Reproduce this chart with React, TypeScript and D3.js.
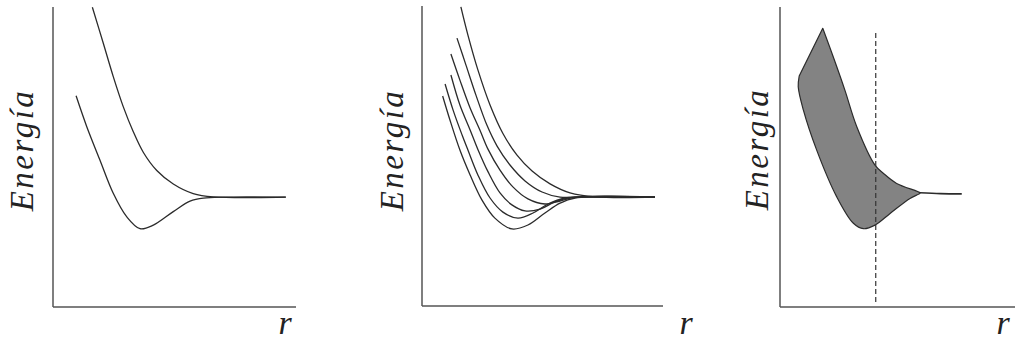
import React from 'react'
import * as d3 from 'd3'

type Pt = [number, number]

// panel 1: repulsive state and bonding state (r, energy in arbitrary units)
const repulsiveCurve: Pt[] = [
  [1.62, 9.99], [2.07, 8.79], [2.48, 7.68], [2.89, 6.68], [3.3, 5.85], [3.72, 5.15],
  [4.27, 4.55], [4.95, 4.1], [5.77, 3.78], [6.6, 3.67], [9.58, 3.66],
]
const bondingCurve: Pt[] = [
  [0.95, 7.04], [1.39, 6.01], [1.93, 4.9], [2.48, 3.79], [3.03, 3.01], [3.58, 2.61],
  [4.13, 2.73], [4.95, 3.18], [5.64, 3.53], [6.19, 3.63], [9.58, 3.66],
]

// panel 2: family of states
const family1: Pt[] = [
  [1.6, 9.97], [1.89, 9.03], [2.3, 7.87], [2.8, 6.7], [3.33, 5.75], [3.91, 5.03],
  [4.53, 4.5], [5.27, 4.07], [6.09, 3.77], [7.12, 3.64], [9.59, 3.63],
]
const family2: Pt[] = [
  [1.44, 8.93], [1.81, 8.03], [2.22, 7.03], [2.67, 6.03], [3.09, 5.33], [3.62, 4.7],
  [4.24, 4.17], [4.94, 3.8], [5.68, 3.63], [6.5, 3.63], [9.59, 3.63],
]
const family3: Pt[] = [
  [1.19, 8.4], [1.56, 7.53], [1.98, 6.6], [2.39, 5.85], [2.72, 5.22], [3.21, 4.53],
  [3.74, 3.97], [4.36, 3.57], [5.06, 3.4], [5.68, 3.5], [6.3, 3.62], [9.59, 3.63],
]
const family4: Pt[] = [
  [1.19, 7.7], [1.56, 6.7], [1.98, 5.87], [2.3, 5.22], [2.72, 4.47], [3.21, 3.77],
  [3.7, 3.37], [4.24, 3.17], [4.86, 3.23], [5.47, 3.47], [6.17, 3.62], [9.59, 3.63],
]
const family5: Pt[] = [
  [0.95, 7.4], [1.28, 6.53], [1.65, 5.7], [1.89, 5.2], [2.3, 4.37], [2.8, 3.6],
  [3.33, 3.13], [3.95, 2.93], [4.57, 3.1], [5.19, 3.4], [5.88, 3.6], [6.5, 3.63], [9.59, 3.63],
]
const family6: Pt[] = [
  [0.85, 7.0], [1.15, 6.2], [1.56, 5.2], [1.98, 4.37], [2.47, 3.53], [3.0, 2.93],
  [3.7, 2.57], [4.36, 2.7], [5.06, 3.1], [5.68, 3.43], [6.3, 3.6], [9.59, 3.63],
]
const familyCurves = [family1, family2, family3, family4, family5, family6]

// panel 3: shaded band between the two limits, with a cut at fixed r
const bandUpper: Pt[] = [
  [1.76, 9.29], [2.19, 8.34], [2.67, 7.23], [3.16, 6.01], [3.91, 4.73], [4.25, 4.46],
  [4.8, 4.12], [5.76, 3.81],
]
const bandTail: Pt[] = [[5.76, 3.81], [6.6, 3.78], [7.48, 3.77]]
const bandLower: Pt[] = [
  [0.79, 7.7], [0.75, 7.34], [0.96, 6.57], [1.51, 5.23], [2.33, 3.68], [3.02, 2.79],
  [3.43, 2.61], [3.91, 2.73], [4.53, 3.12], [5.35, 3.62], [5.76, 3.79],
]
const cutR = 3.94
const cutE: [number, number] = [0.17, 9.17]

const yLabel = 'Energía'
const xLabel = 'r'

const x = d3.scaleLinear().domain([0, 10]).range([0, 243])
const y = d3.scaleLinear().domain([0, 10]).range([300, 0])

const line = d3
  .line<Pt>()
  .x(d => x(d[0]))
  .y(d => y(d[1]))
  .curve(d3.curveCatmullRom.alpha(0.5))

const panels = [
  { ox: 53, oy: 307, axisLen: 243, yl: [-20, -157], xl: [232, 27] },
  { ox: 422, oy: 306, axisLen: 241, yl: [-19, -156], xl: [264, 28] },
  { ox: 780, oy: 307, axisLen: 250, yl: [-12, -158], xl: [223, 27] },
]

const serif = 'Liberation Serif, Times New Roman, serif'
const curveStyle = { fill: 'none', stroke: '#2b2b2b', strokeWidth: 1.3 }

const Frame = ({ p }: { p: (typeof panels)[number] }) => (
  <g>
    <line x1={0} y1={0} x2={0} y2={-300} stroke="#555" strokeWidth={1.5} />
    <line x1={0} y1={0} x2={p.axisLen} y2={0} stroke="#555" strokeWidth={1.5} />
    <text
      transform={`translate(${p.yl[0]},${p.yl[1]}) rotate(-90)`}
      textAnchor="middle"
      fontFamily={serif}
      fontStyle="italic"
      fontSize={33}
      letterSpacing={2.5}
      fill="#222"
    >
      {yLabel}
    </text>
    <text
      x={p.xl[0]}
      y={p.xl[1]}
      textAnchor="middle"
      fontFamily={serif}
      fontStyle="italic"
      fontSize={34}
      fill="#222"
    >
      {xLabel}
    </text>
  </g>
)

export default function App() {
  const bandPath = line([...bandUpper, ...bandLower.slice().reverse()]) + 'Z'
  return (
    <div style={{ position: 'absolute', left: 0, top: 0 }}>
      <svg width={1015} height={341} style={{ display: 'block', background: '#fff' }}>
        <g transform={`translate(${panels[0].ox},${panels[0].oy - 300})`}>
          <path d={line(repulsiveCurve) ?? ''} {...curveStyle} />
          <path d={line(bondingCurve) ?? ''} {...curveStyle} />
        </g>
        <g transform={`translate(${panels[0].ox},${panels[0].oy})`}>
          <Frame p={panels[0]} />
        </g>

        <g transform={`translate(${panels[1].ox},${panels[1].oy - 300})`}>
          {familyCurves.map((c, i) => (
            <path key={i} d={line(c) ?? ''} {...curveStyle} />
          ))}
        </g>
        <g transform={`translate(${panels[1].ox},${panels[1].oy})`}>
          <Frame p={panels[1]} />
        </g>

        <g transform={`translate(${panels[2].ox},${panels[2].oy - 300})`}>
          <path d={bandPath} fill="#838383" stroke="#2b2b2b" strokeWidth={1.2} strokeLinejoin="round" />
          <path d={line(bandTail) ?? ''} {...curveStyle} strokeWidth={1.6} />
          <line
            x1={x(cutR)}
            x2={x(cutR)}
            y1={y(cutE[0])}
            y2={y(cutE[1])}
            stroke="#333"
            strokeWidth={1.2}
            strokeDasharray="5,3"
          />
        </g>
        <g transform={`translate(${panels[2].ox},${panels[2].oy})`}>
          <Frame p={panels[2]} />
        </g>
      </svg>
    </div>
  )
}
